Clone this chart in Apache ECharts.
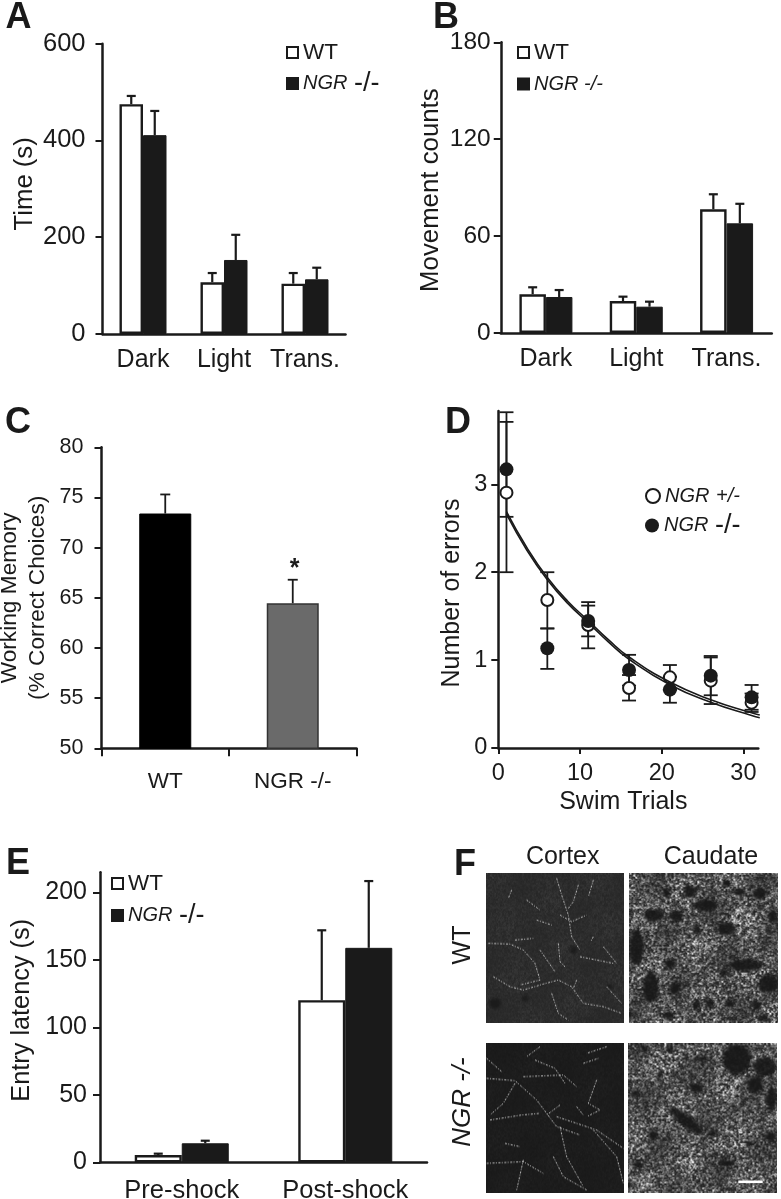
<!DOCTYPE html>
<html><head><meta charset="utf-8">
<style>html,body{margin:0;padding:0;background:#fff}#c{width:781px;height:1199px}</style>
<script src="https://cdn.jsdelivr.net/npm/echarts@6/dist/echarts.min.js"></script>
</head><body><div id="c"></div>
<script>
// ---------- DATA ----------
const catsAB = ['Dark','Light','Trans.'];
const aWT = [475,107,104], aNGR = [411,153,113], aWTerr = [492,126,126], aNGRerr = [461,205,137];
const aTicks = [0,200,400,600];
const bWT = [24,19.8,76.6], bNGR = [22.3,16.3,67.9], bWTerr = [28.3,22.5,85.9], bNGRerr = [26.6,19.4,80];
const bTicks = [0,60,120,180];
const catsC = ['WT','NGR -/-'];
const cVal = [73.4,64.45], cErr = [75.3,66.8];
const cTicks = [50,55,60,65,70,75,80];
const dX = [1,6,11,16,21,26,31];
const dOpen = [2.905,1.684,1.40,0.683,0.804,0.766,0.516];
const dFill = [3.17,1.134,1.445,0.887,0.664,0.823,0.576];
const dOpenLo = [2.0,1.36,1.134,0.54,0.66,0.50,0.41], dOpenHi = [3.82,2.0,1.66,0.83,0.944,1.03,0.62];
const dFillLo = [2.63,0.90,1.27,0.71,0.515,0.60,0.435], dFillHi = [3.71,1.36,1.62,1.06,0.81,1.047,0.717];
const dFitX = [1,3.5,6,8.5,11,13.5,16,21,26,31,32];
const dFitOpen = [2.69,2.28,1.94,1.67,1.45,1.23,1.035,0.75,0.55,0.40,0.375];
const dFitFill = [2.66,2.25,1.915,1.645,1.425,1.205,1.01,0.72,0.52,0.37,0.345];
const dXTicks = [0,10,20,30], dYTicks = [0,1,2,3];
const catsE = ['Pre-shock','Post-shock'];
const eWT = [5.4,120.2], eNGR = [14.1,159], eWTerr = [6.4,172], eNGRerr = [16,208.5];
const eTicks = [0,50,100,150,200];

// ---------- STYLE ----------
const INK = '#1a1a1a', FONT = '"Liberation Sans", Arial, sans-serif';
const axisLine = {show:true,onZero:false,lineStyle:{color:INK,width:2.5}};
const grids = [
  {left:102.5,top:43.7,width:243,height:290.3,outerBoundsMode:'none'},
  {left:500.75,top:42.3,width:271,height:290.7,outerBoundsMode:'none'},
  {left:101.5,top:447.3,width:255,height:301,outerBoundsMode:'none'},
  {left:498.3,top:411,width:260,height:337,outerBoundsMode:'none'},
  {left:100,top:872.3,width:327,height:290,outerBoundsMode:'none'}
];
function yAxis(i,min,max,ticks,name,gap,fs,nameFs,margin,pad,interval){
  return {type:'value',gridIndex:i,min,max,interval,
    axisLine,splitLine:{show:false},
    axisTick:{show:true,length:7,lineStyle:{color:INK,width:2},customValues:ticks},
    axisLabel:{color:INK,fontFamily:FONT,fontSize:fs,margin,padding:[3,0,0,0],customValues:ticks},
    name,nameLocation:'middle',nameGap:gap,nameRotate:90,
    nameTextStyle:{color:INK,fontFamily:FONT,fontSize:nameFs,padding:pad,lineHeight:28}};
}
function catAxis(i,cats,fs,margin,tick){
  return {type:'category',gridIndex:i,data:cats,axisLine,
    axisTick:tick?{show:true,length:8,inside:false,alignWithLabel:false,lineStyle:{color:INK,width:2}}:{show:false},
    axisLabel:{color:INK,fontFamily:FONT,fontSize:fs,margin,interval:0}};
}
function errSeries(i,name,tops,side,bw,cap,w){
  return {type:'custom',name,xAxisIndex:i,yAxisIndex:i,z:1,silent:true,
    data:tops.map((t,k)=>[k,t[0],t[1]]),
    encode:{x:0,y:[1,2]},
    renderItem(p,api){
      const a=api.coord([api.value(0),api.value(1)]), b=api.coord([api.value(0),api.value(2)]);
      const x=a[0]+side*bw/2;
      return {type:'group',children:[
        {type:'line',shape:{x1:x,y1:a[1],x2:x,y2:b[1]},style:{stroke:INK,lineWidth:w}},
        {type:'line',shape:{x1:x-cap,y1:b[1],x2:x+cap,y2:b[1]},style:{stroke:INK,lineWidth:w}}
      ]};
    }};
}
function barPair(i,wt,ngr,wtErr,ngrErr,bw,cap){
  const zip=(v,e)=>v.map((x,k)=>[x,e[k]]);
  return [
    errSeries(i,'WT error',zip(wt,wtErr),-1,bw,cap,2.2),
    errSeries(i,'NGR error',zip(ngr,ngrErr),1,bw,cap,2.2),
    {type:'bar',name:'WT',xAxisIndex:i,yAxisIndex:i,data:wt,barWidth:bw,barGap:'0%',z:2,silent:true,
      itemStyle:{color:'#fff',borderColor:INK,borderWidth:2.4}},
    {type:'bar',name:'NGR -/-',xAxisIndex:i,yAxisIndex:i,data:ngr,barWidth:bw,barGap:'0%',z:3,silent:true,
      itemStyle:{color:INK,borderColor:INK,borderWidth:1}}
  ];
}
function ptErr(i,name,lo,hi){
  return {type:'custom',name,xAxisIndex:i,yAxisIndex:i,z:1,silent:true,clip:false,
    data:dX.map((x,k)=>[x,lo[k],hi[k]]),encode:{x:0,y:[1,2]},
    renderItem(p,api){
      const a=api.coord([api.value(0),api.value(1)]), b=api.coord([api.value(0),api.value(2)]);
      const ln=(x1,y1,x2,y2)=>({type:'line',shape:{x1,y1,x2,y2},style:{stroke:INK,lineWidth:1.8}});
      return {type:'group',children:[ln(a[0],a[1],a[0],b[1]),ln(a[0]-7,a[1],a[0]+7,a[1]),ln(a[0]-7,b[1],a[0]+7,b[1])]};
    }};
}
function zip2(a,b){return a.map((x,k)=>[x,b[k]]);}

const rich = {
  i:{fontFamily:FONT,fontStyle:'italic',fontSize:20,color:INK},
  b:{fontFamily:FONT,fontSize:27,color:INK},
  s:{fontFamily:FONT,fontStyle:'italic',fontSize:20,color:INK},
  p:{fontFamily:FONT,fontStyle:'italic',fontSize:20,color:INK},
  w:{fontFamily:FONT,fontSize:22.5,color:INK}
};
function leg(name,left,top,fmt,icon,size){
  return {data:[name],left,top,orient:'vertical',icon:icon||'rect',itemWidth:size||11,itemHeight:size||11,itemGap:0,padding:0,
    selectedMode:false,formatter:fmt,itemStyle:{borderWidth:2},
    textStyle:{color:INK,fontFamily:FONT,fontSize:24,rich}};
}
const fW='{w|WT}', fN='{i|NGR} {b|-/-}', fNs='{s|NGR -/-}';

const legends = [
  leg('WT',286,41,fW), leg('NGR -/-',286,70,fN),
  leg('WT',517,41,fW), leg('NGR -/-',517,74,fNs),
  leg('WT',111,872,fW), leg('NGR -/-',111,902,fN),
  leg('NGR +/-',645,484,'{i|NGR} {p|+/-}','circle',14),
  leg('NGR -/- ',645,512,'{i|NGR} {b|-/-}','circle',14)
];

// ---------- PHOTO PANEL F (texture only, no chart data; positions in 3x crop px) ----------
function hash(x,y){const s=Math.sin(x*12.9898+y*78.233)*43758.5453;return s-Math.floor(s);}
function photo(x0,y0,x1,y1,o){
  const w=Math.round((x1-x0)/3),h=Math.round((y1-y0)/3);
  const raw=document.createElement('canvas');raw.width=w;raw.height=h;
  const rc=raw.getContext('2d'),im=rc.createImageData(w,h);
  for(let y=0;y<h;y++)for(let x=0;x<w;x++){
    const n=hash(x,y),n2=hash((x>>1)+31,(y>>1)+57);
    const lf=0.5+0.5*Math.sin(x*0.09+y*0.04+o.ph)*Math.cos(y*0.07-x*0.03);
    const v=o.base+o.amp*Math.pow(0.5*n+0.5*n2,o.pow)*(0.55+0.75*lf);
    const k=(y*w+x)*4;im.data[k]=im.data[k+1]=im.data[k+2]=Math.min(255,v);im.data[k+3]=255;
  }
  rc.putImageData(im,0,0);
  const c=document.createElement('canvas');c.width=w;c.height=h;
  const g=c.getContext('2d');
  g.filter='blur(0.6px)';g.drawImage(raw,0,0);
  const X=v=>(v-x0)/3,Y=v=>(v-y0)/3;
  g.filter='blur(1.8px)';g.fillStyle=o.blobColor||'rgba(24,24,24,0.93)';
  (o.blobs||[]).forEach(b=>{g.beginPath();g.ellipse(X(b[0]),Y(b[1]),b[2]/3,b[3]/3,(b[4]||0)*Math.PI/180,0,7);g.fill();});
  g.filter='blur(0.3px)';g.strokeStyle=o.fil||'rgba(240,240,240,0.85)';g.lineWidth=0.9;g.setLineDash([2,1.3,1,1.6]);g.lineJoin='round';
  (o.fils||[]).forEach(p=>{g.beginPath();p.forEach((q,i)=>i?g.lineTo(X(q[0]),Y(q[1])):g.moveTo(X(q[0]),Y(q[1])));g.stroke();});
  return {type:'image',silent:true,z:1,style:{image:c,x:440+x0/3,y:840+y0/3,width:w,height:h}};
}
const wtFils=[[[215,150],[205,175]],[[260,180],[300,210]],[[350,115],[365,165],[385,225],[395,290],[420,330]],[[415,135],[400,185],[385,205]],[[460,120],[445,170]],[[145,310],[210,312],[250,330],[285,370],[300,420],[240,435]],[[225,300],[280,295]],[[290,240],[335,255]],[[360,225],[395,245],[440,225]],[[160,410],[210,440],[250,450],[310,432],[355,420],[395,440],[430,490],[490,500],[545,520]],[[335,460],[355,520],[385,540]],[[410,420],[400,445]],[[355,310],[360,365],[375,380]],[[460,290],[452,305]],[[300,330],[345,395]],[[420,350],[520,370]],[[490,320],[530,370]],[[500,440],[545,490]]];
const koFils=[[[140,655],[185,695]],[[140,715],[225,722],[290,780],[350,860],[420,885]],[[250,710],[370,705],[410,740]],[[285,660],[345,685],[375,730]],[[225,730],[190,790],[150,825]],[[360,795],[320,825]],[[150,840],[245,825],[300,820]],[[350,830],[470,870],[550,925]],[[430,670],[475,655]],[[470,720],[445,790],[480,810],[440,830]],[[360,860],[380,950],[430,1040]],[[140,970],[250,965],[310,1000]],[[250,960],[230,1050]],[[195,910],[240,920]],[[340,950],[370,1010],[440,1050]],[[460,870],[530,950],[550,1030]],[[410,800],[430,825]],[[300,620],[260,650]],[[500,620],[440,640]]];
const wtBlobs=[[590,320,22,55],[632,440,25,48],[710,228,20,18],[795,195,35,18],[750,155,20,20],[860,265,30,20],[920,375,50,20],[985,430,30,30],[640,225,30,20],[680,160,12,14],[960,160,20,18],[900,155,15,12],[950,495,15,14],[705,445,18,18],[810,490,15,18],[685,525,18,14],[998,230,15,18],[770,270,12,15],[970,535,20,10],[860,130,15,12],[770,495,14,14],[870,490,14,12],[690,370,20,14],[850,400,12,14]];
const koBlobs=[[890,660,42,45],[975,680,35,30],[945,735,25,25],[735,840,60,18,38],[770,745,20,15],[995,780,15,40],[595,975,14,12],[992,890,15,15],[660,705,10,10],[615,630,12,10],[690,630,15,10],[640,885,15,15],[930,910,12,8],[860,970,25,10],[790,655,12,10],[585,760,14,10],[820,880,14,8]];
const ctx2 = ()=>[
  photo(138,98,551,547,{base:38,amp:18,pow:1.4,ph:1,blobs:[[165,490,18,16],[255,475,10,10],[510,440,8,8],[400,330,10,12]],blobColor:'rgba(24,24,24,0.8)',fils:wtFils}),
  photo(568,98,1016,547,{base:30,amp:230,pow:2.2,ph:2,blobs:wtBlobs}),
  photo(138,610,553,1060,{base:25,amp:8,pow:1.2,ph:3,fils:koFils}),
  photo(565,610,1012,1060,{base:30,amp:225,pow:2.2,ph:4,blobs:koBlobs})
];
const txt=(text,x,y,o)=>({type:'text',silent:true,z:5,x,y,rotation:o.rot||0,
  style:{text,fill:o.fill||INK,font:(o.style||'')+' '+(o.weight||'')+' '+o.size+'px "Liberation Sans", Arial, sans-serif',textAlign:'center',textVerticalAlign:'middle'}});
const graphics = [
  ...ctx2(),
  {type:'rect',silent:true,z:6,shape:{x:738.3,y:1180.5,width:24.4,height:2.6},style:{fill:'#fff'}},
  txt('A',18.5,18,{size:36,weight:'bold'}),
  txt('B',446,18,{size:36,weight:'bold'}),
  txt('C',18,423,{size:36,weight:'bold'}),
  txt('D',458,423,{size:36,weight:'bold'}),
  txt('E',18,864,{size:36,weight:'bold'}),
  txt('F',465,865,{size:36,weight:'bold'}),
  txt('*',294.7,569,{size:25,weight:'bold'}),
  txt('Cortex',562.7,857,{size:25}),
  txt('Caudate',711,857,{size:25}),
  txt('WT',463,945,{size:25,rot:Math.PI/2}),
  txt('NGR -/-',463,1102,{size:26,style:'italic',rot:Math.PI/2})
];

// ---------- OPTION ----------
const option = {
  animation:false,backgroundColor:'#fff',
  textStyle:{fontFamily:FONT},
  grid:grids,
  legend:legends,
  xAxis:[
    catAxis(0,catsAB,25,14),
    catAxis(1,catsAB,25,14),
    catAxis(2,catsC,22.5,22,true),
    {type:'value',gridIndex:3,min:0,max:31.82,interval:10,axisLine,splitLine:{show:false},
      axisTick:{show:true,length:6,lineStyle:{color:INK,width:2},customValues:dXTicks},
      axisLabel:{color:INK,fontFamily:FONT,fontSize:23.5,margin:14,customValues:dXTicks},
      name:'Swim Trials',nameLocation:'middle',nameGap:42,
      nameTextStyle:{color:INK,fontFamily:FONT,fontSize:25,padding:[0,10,0,0]}},
    catAxis(4,catsE,25.5,16)
  ],
  yAxis:[
    yAxis(0,0,600,aTicks,'Time (s)',63,25.5,25.7,17,[0,0,0,10],200),
    yAxis(1,0,180,bTicks,'Movement counts',56,24.5,25.8,10,[0,5,0,0],60),
    yAxis(2,50,80,cTicks,'Working Memory\n(% Correct Choices)',50,21.5,22.7,18,[0,0,0,0],5),
    yAxis(3,0,3.834,dYTicks,'Number of errors',32,23.5,25,11,[0,27,0,0],1),
    yAxis(4,0,215,eTicks,'Entry latency (s)',64,25,25.3,13,[0,0,0,14],50)
  ],
  series:[
    ...barPair(0,aWT,aNGR,aWTerr,aNGRerr,23.5,4.5),
    ...barPair(1,bWT,bNGR,bWTerr,bNGRerr,26.5,4.5),
    errSeries(2,'C error',zip2(cVal,cErr),0,0,5,1.8),
    {type:'bar',name:'Working memory',xAxisIndex:2,yAxisIndex:2,barWidth:52,z:2,silent:true,
      data:[
        {value:cVal[0],itemStyle:{color:'#000',borderColor:'#000',borderWidth:1}},
        {value:cVal[1],itemStyle:{color:'#6a6a6a',borderColor:'#333',borderWidth:1.5}}
      ]},
    ptErr(3,'NGR +/- error',dOpenLo,dOpenHi),
    ptErr(3,'NGR -/- error',dFillLo,dFillHi),
    {type:'scatter',name:'NGR +/-',xAxisIndex:3,yAxisIndex:3,data:zip2(dX,dOpen),symbol:'circle',symbolSize:12,z:3,silent:true,
      itemStyle:{color:'#fff',borderColor:INK,borderWidth:2,opacity:1}},
    {type:'scatter',name:'NGR -/- ',xAxisIndex:3,yAxisIndex:3,data:zip2(dX,dFill),symbol:'circle',symbolSize:14,z:4,silent:true,
      itemStyle:{color:INK,opacity:1}},
    {type:'line',name:'Fit +/-',xAxisIndex:3,yAxisIndex:3,data:zip2(dFitX,dFitOpen),smooth:true,showSymbol:false,z:5,silent:true,
      lineStyle:{color:INK,width:1.6}},
    {type:'line',name:'Fit -/-',xAxisIndex:3,yAxisIndex:3,data:zip2(dFitX,dFitFill),smooth:true,showSymbol:false,z:5,silent:true,
      lineStyle:{color:INK,width:1.6}},
    ...barPair(4,eWT,eNGR,eWTerr,eNGRerr,47,4.5)
  ],
  graphic:graphics
};
const chart = echarts.init(document.getElementById('c'),null,{renderer:'canvas',width:781,height:1199});
chart.setOption(option);
</script></body></html>
